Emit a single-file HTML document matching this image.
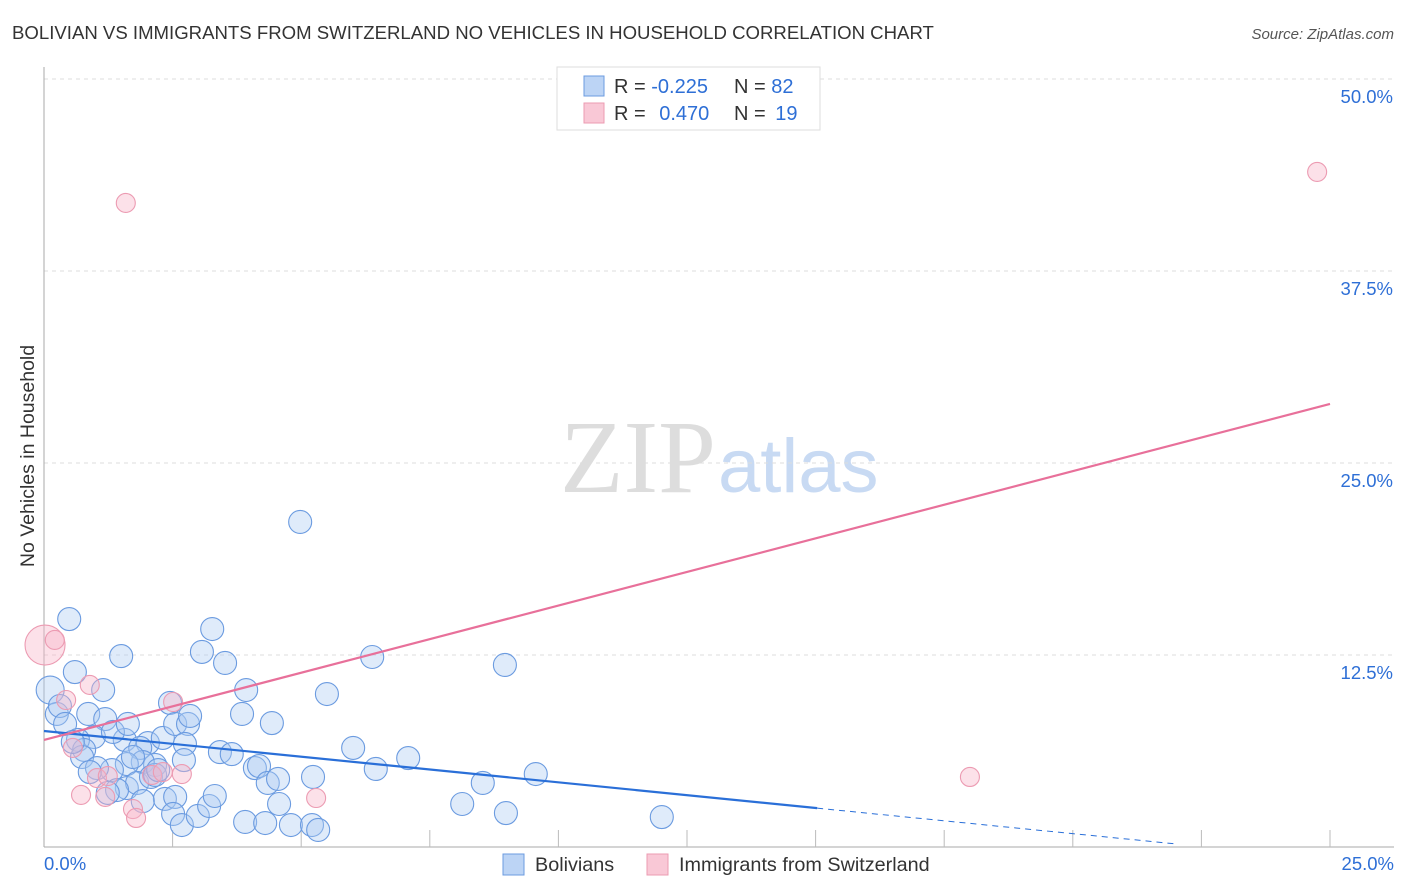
<!DOCTYPE html>
<html><head><meta charset="utf-8"><style>
body{margin:0;background:#fff;font-family:"Liberation Sans",sans-serif}
svg{display:block}
</style></head><body>
<svg id="chart" width="1406" height="892">
<text x="12" y="39" font-size="18.6" fill="#333">BOLIVIAN VS IMMIGRANTS FROM SWITZERLAND NO VEHICLES IN HOUSEHOLD CORRELATION CHART</text>
<text x="1394" y="39" font-size="15" fill="#555" font-style="italic" text-anchor="end">Source: ZipAtlas.com</text>
<text x="34" y="456" font-size="19.5" fill="#333" transform="rotate(-90 34 456)" text-anchor="middle">No Vehicles in Household</text>
<text x="716" y="492" font-size="104" fill="#ddd" text-anchor="end" font-family="Liberation Serif">ZIP</text>
<text x="718" y="492" font-size="76" fill="#c8daf3">atlas</text>
<g id="grid"></g><g id="marks"></g>
<g>
<rect x="557" y="67" width="263" height="63" fill="#fff" stroke="#ddd"/>
<rect x="584" y="76" width="20" height="20" fill="#bcd4f5" stroke="#6b9be0"/>
<rect x="584" y="103" width="20" height="20" fill="#f9c8d6" stroke="#ec9bb2"/>
<text x="614" y="93" font-size="20" fill="#333">R = <tspan fill="#2e6fd6">-0.225</tspan><tspan x="734">N = </tspan><tspan fill="#2e6fd6">82</tspan></text>
<text x="614" y="120" font-size="20" fill="#333">R = <tspan fill="#2e6fd6" dx="8">0.470</tspan><tspan x="734">N = </tspan><tspan fill="#2e6fd6" dx="4">19</tspan></text>
</g>
<g>
<rect x="503" y="854" width="21" height="21" fill="#bcd4f5" stroke="#6b9be0"/>
<text x="535" y="871" font-size="19.8" fill="#333">Bolivians</text>
<rect x="647" y="854" width="21" height="21" fill="#f9c8d6" stroke="#ec9bb2"/>
<text x="679" y="871" font-size="19.8" fill="#333">Immigrants from Switzerland</text>
</g>
</svg>
<script>
const yTicks=[50,37.5,25,12.5];
const yTickLabels=["50.0%","37.5%","25.0%","12.5%"];
const xTickLabels=["0.0%","25.0%"];
const bolX=[0.49,0.60,1.50,1.15,0.12,0.25,0.31,0.41,0.86,1.19,0.97,0.66,0.78,0.74,0.56,1.57,1.34,1.63,2.02,1.87,2.31,2.45,2.55,2.80,2.84,2.74,2.72,2.16,1.92,1.61,1.73,1.32,1.03,0.89,1.61,1.81,2.08,2.16,2.22,2.35,2.55,2.51,2.68,2.99,3.21,3.32,1.42,1.24,1.92,3.42,3.65,3.85,3.93,3.52,3.07,3.27,4.43,4.10,4.18,4.35,4.55,4.57,3.91,4.30,4.80,5.21,5.33,5.23,5.50,6.01,6.38,6.45,7.08,4.98,8.13,8.53,8.96,8.98,9.56,12.01];
const bolY=[14.84,11.39,12.43,10.22,10.22,8.66,9.18,8.01,8.66,8.33,7.16,6.97,6.32,5.86,6.84,6.97,7.49,8.01,6.77,6.45,7.10,9.38,8.01,8.01,8.53,6.71,5.66,5.34,5.53,5.40,5.86,5.01,5.14,4.88,3.84,4.17,4.56,4.69,5.01,3.13,3.26,2.15,1.43,2.02,2.67,3.32,3.71,3.52,2.99,6.18,6.05,8.66,10.22,11.98,12.70,14.19,8.07,5.14,5.27,4.17,4.43,2.80,1.63,1.56,1.43,1.43,1.11,4.56,9.96,6.45,12.37,5.08,5.79,21.16,2.80,4.17,11.85,2.21,4.75,1.95];
const swiX=[1.59,24.75,0.02,0.21,0.89,0.43,2.51,0.56,1.03,1.24,0.72,1.19,1.73,1.79,2.10,2.31,2.68,5.29,18.00];
const swiY=[41.93,43.95,13.15,13.48,10.55,9.57,9.44,6.45,4.49,4.62,3.39,3.26,2.47,1.89,4.69,4.88,4.75,3.19,4.56];
const bolTrend=[7.55,-0.334];
const swiTrend=[6.97,0.875];
const NS="http://www.w3.org/2000/svg";
const X=v=>44+v/25*1286, Y=v=>847-v/50*768;
const grid=document.getElementById('grid'), marks=document.getElementById('marks');
function mk(tag,attrs,parent){const e=document.createElementNS(NS,tag);for(const k in attrs)e.setAttribute(k,attrs[k]);parent.appendChild(e);return e;}
yTicks.forEach((t,i)=>{
 const l=mk('line',{x1:44,x2:1394,y1:Y(t),y2:Y(t),stroke:'#ddd','stroke-dasharray':'4,4'},grid);
 
 
 const tx=mk('text',{x:1393,y:Y(t)+24,'font-size':18.5,fill:'#2e6fd6','text-anchor':'end'},grid);tx.textContent=yTickLabels[i];
 
 
});
mk('line',{x1:44,x2:44,y1:67,y2:847,stroke:'#aaa'},grid);
mk('line',{x1:44,x2:1394,y1:847,y2:847,stroke:'#aaa'},grid);
for(let i=1;i<=10;i++){const l=mk('line',{x1:X(i*2.5),x2:X(i*2.5),y1:847,y2:830,stroke:'#bbb'},grid);
 
 }
const xl0=mk('text',{x:44,y:870,'font-size':18.5,fill:'#2e6fd6'},grid);xl0.textContent=xTickLabels[0];


const xl1=mk('text',{x:1394,y:870,'font-size':18.5,fill:'#2e6fd6','text-anchor':'end'},grid);xl1.textContent=xTickLabels[1];


bolX.forEach((x,i)=>{const c=mk('circle',{cx:X(x),cy:Y(bolY[i]),r:(i==4?14:11.5),fill:'rgba(170,202,242,0.38)',stroke:'#6b9be0','stroke-width':1.1},marks);
 
 });
swiX.forEach((x,i)=>{const c=mk('circle',{cx:X(x),cy:Y(swiY[i]),r:(i==2?20:9.5),fill:'rgba(248,180,200,0.4)',stroke:'#ec9bb2','stroke-width':1.1},marks);
 
 });
const bl=mk('line',{x1:X(0),y1:Y(bolTrend[0]),x2:X(15.03),y2:Y(bolTrend[0]+bolTrend[1]*15.03),stroke:'#2a6fd8','stroke-width':2.2},marks);


const bd=mk('line',{x1:X(15.03),y1:Y(bolTrend[0]+bolTrend[1]*15.03),x2:X(22),y2:Y(bolTrend[0]+bolTrend[1]*22),stroke:'#2a6fd8','stroke-width':1,'stroke-dasharray':'6,5'},marks);


const sl=mk('line',{x1:X(0),y1:Y(swiTrend[0]),x2:X(25),y2:Y(swiTrend[0]+swiTrend[1]*25),stroke:'#e8709a','stroke-width':2.2},marks);


</script>
</body></html>
